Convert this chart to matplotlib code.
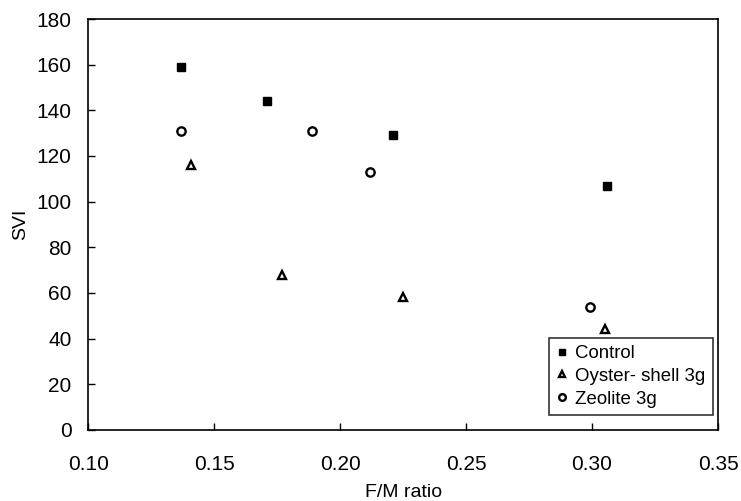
import matplotlib
matplotlib.use("Agg")
import matplotlib.pyplot as plt

plt.rcParams['font.family'] = ['Liberation Sans', 'DejaVu Sans']

# F/M ratio vs SVI
control_x = [0.137, 0.171, 0.221, 0.306]
control_y = [159, 144, 129, 107]
oyster_x = [0.141, 0.177, 0.225, 0.305]
oyster_y = [116, 68, 58, 44]
zeolite_x = [0.137, 0.189, 0.212, 0.299]
zeolite_y = [131, 131, 113, 54]

fig = plt.figure(figsize=(7.41, 5.01), dpi=100)
ax = fig.add_axes([0.119, 0.142, 0.850, 0.820])

ax.plot(control_x, control_y, linestyle='none', marker='s', markersize=6,
        color='black', label='Control')
ax.plot(oyster_x, oyster_y, linestyle='none', marker='^', markersize=6,
        markerfacecolor='white', markeredgecolor='black', markeredgewidth=1.7,
        label='Oyster- shell 3g')
ax.plot(zeolite_x, zeolite_y, linestyle='none', marker='o', markersize=6,
        markerfacecolor='white', markeredgecolor='black', markeredgewidth=1.7,
        label='Zeolite 3g')

ax.set_xlim(0.10, 0.35)
ax.set_ylim(0, 180)
ax.set_xticks([0.10, 0.15, 0.20, 0.25, 0.30, 0.35])
ax.set_xticklabels(['0.10', '0.15', '0.20', '0.25', '0.30', '0.35'])
ax.set_yticks(range(0, 181, 20))

ax.tick_params(axis='x', direction='in', length=5, width=1, pad=18, labelsize=15)
ax.tick_params(axis='y', direction='in', length=5, width=1, pad=12, labelsize=15)
for s in ax.spines.values():
    s.set_linewidth(1.2)

ax.set_xlabel('F/M ratio', fontsize=14, labelpad=7)
ax.set_ylabel('SVI', fontsize=14, labelpad=5)

leg = ax.legend(loc='lower right', fontsize=13.4, frameon=True, fancybox=False,
                edgecolor='black', handlelength=0.6, handletextpad=0.4,
                borderpad=0.4, labelspacing=0.3, markerscale=0.8,
                borderaxespad=0, bbox_to_anchor=(0.992, 0.036))
leg.get_frame().set_linewidth(1.2)

fig.savefig('out.png', dpi=100)
